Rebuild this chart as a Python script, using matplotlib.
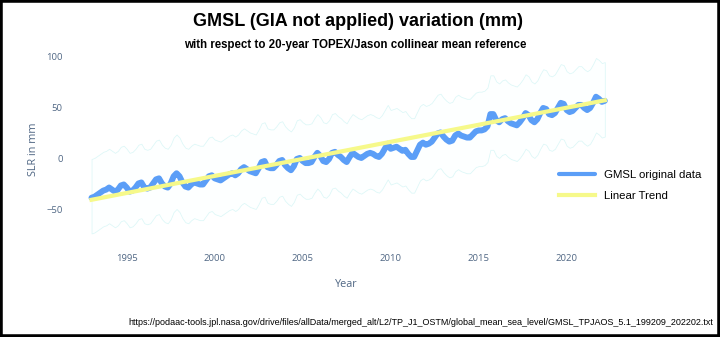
import numpy as np
import matplotlib
matplotlib.use("Agg")
import matplotlib.pyplot as plt
from matplotlib.patches import Rectangle

# Bimonthly GMSL samples (mm), starting 1993.0, six per year
start_year = 1993.0
samples_per_year = 6
gmsl_mm = [
    -38, -37, -35, -33, -31, -30,   # 1993
    -28, -30, -32, -30, -26, -25,   # 1994
    -28, -32, -31, -28, -24, -23,   # 1995
    -28, -29, -28, -24, -20, -19,   # 1996
    -24, -27, -28, -24, -17, -14,   # 1997
    -17, -23, -27, -28, -25, -23,   # 1998
    -24, -25, -25, -21, -17, -16,   # 1999
    -19, -20, -21, -19, -17, -15,   # 2000
    -14, -16, -14, -10, -8, -10,    # 2001
    -12, -13, -14, -9, -3, -2,      # 2002
    -8, -9, -9, -6, -2, -1,         # 2003
    -6, -9, -11, -7, 0, 1,          # 2004
    -2, -4, -4, -3, 2, 6,           # 2005
    3, -2, -3, 0, 6, 7,             # 2006
    4, 2, -1, -3, 2, 6,             # 2007
    4, 2, 1, 3, 5, 6,               # 2008
    5, 3, 2, 5, 10, 15,             # 2009
    10, 11, 12, 10, 8, 9,           # 2010
    5, 2, 2, 8, 14, 16,             # 2011
    14, 15, 17, 21, 25, 26,         # 2012
    22, 19, 17, 18, 23, 25,         # 2013
    23, 22, 21, 21, 24, 27,         # 2014
    28, 28, 29, 32, 44, 44,         # 2015
    38, 36, 39, 40, 37, 35,         # 2016
    34, 33, 36, 40, 45, 43,         # 2017
    38, 36, 39, 45, 50, 49,         # 2018
    44, 43, 45, 50, 55, 54,         # 2019
    48, 46, 47, 50, 53, 53,         # 2020
    50, 48, 50, 55, 61, 59,         # 2021
    56, 57,                         # 2022
]
# Envelope offsets (mm) around the GMSL series
envelope_upper_mm = 38
envelope_lower_mm = -35

# Linear trend end points (year, mm)
trend_years = [1993.0, 2022.167]
trend_mm = [-40.0, 57.5]

x_ticks = [1995, 2000, 2005, 2010, 2015, 2020]
y_ticks = [-50, 0, 50, 100]

years = start_year + np.arange(len(gmsl_mm)) / samples_per_year
gmsl = np.array(gmsl_mm, dtype=float)

fig = plt.figure(figsize=(7.2, 3.37), dpi=100)
ax = fig.add_axes([0.110, 0.280, 0.743, 0.557])

ax.fill_between(years, gmsl + envelope_lower_mm, gmsl + envelope_upper_mm,
                facecolor="#fdffff", edgecolor="#dcf7f7", linewidth=0.55, zorder=1)
ax.plot(years, gmsl, color="#5b9ef7", linewidth=4.3, solid_capstyle="round",
        solid_joinstyle="round", label="GMSL original data", zorder=3)
ax.plot(trend_years, trend_mm, color="#f6f98a", linewidth=3.0, label="Linear Trend", zorder=4)

ax.set_xlim(1992.3, 2022.7)
ax.set_ylim(-82, 102)
ax.set_xticks(x_ticks)
ax.set_yticks(y_ticks)
tick_font = dict(family="Open Sans", size=6.8, color="#506784")
ax.set_xticklabels([str(t) for t in x_ticks], **tick_font)
ax.set_yticklabels([str(t).replace("-", "\u2212") for t in y_ticks], **tick_font)
ax.tick_params(length=0, pad=8)
ax.tick_params(axis="y", pad=12)
for s in ax.spines.values():
    s.set_visible(False)

ax.set_xlabel("Year", family="Open Sans", size=7.8, color="#506784", labelpad=12)
ax.set_ylabel("SLR in mm", family="Open Sans", size=7.8, color="#506784", labelpad=5)

leg = ax.legend(loc="upper left", bbox_to_anchor=(0.888, 0.41), frameon=False,
                prop=dict(family="Liberation Sans", size=8.2), handlelength=3.2,
                handletextpad=0.8, labelspacing=0.95, borderaxespad=0)
for line in leg.get_lines():
    line.set_linewidth(3.0)

fig.text(0.497, 0.935, "GMSL (GIA not applied) variation (mm)", ha="center", va="center",
         family="Liberation Sans", weight="bold", size=13)
fig.text(0.493, 0.866, "with respect to 20-year TOPEX/Jason collinear mean reference",
         ha="center", va="center", family="Liberation Sans", weight="bold", size=8.3)
fig.text(0.990, 0.042,
         "https://podaac-tools.jpl.nasa.gov/drive/files/allData/merged_alt/L2/TP_J1_OSTM/"
         "global_mean_sea_level/GMSL_TPJAOS_5.1_199209_202202.txt",
         ha="right", va="center", family="Liberation Sans", size=6.45)

fig.patches.append(Rectangle((0, 0), 1, 1, transform=fig.transFigure, fill=False,
                             edgecolor="black", linewidth=4.0))

fig.savefig("out.png", dpi=100)
